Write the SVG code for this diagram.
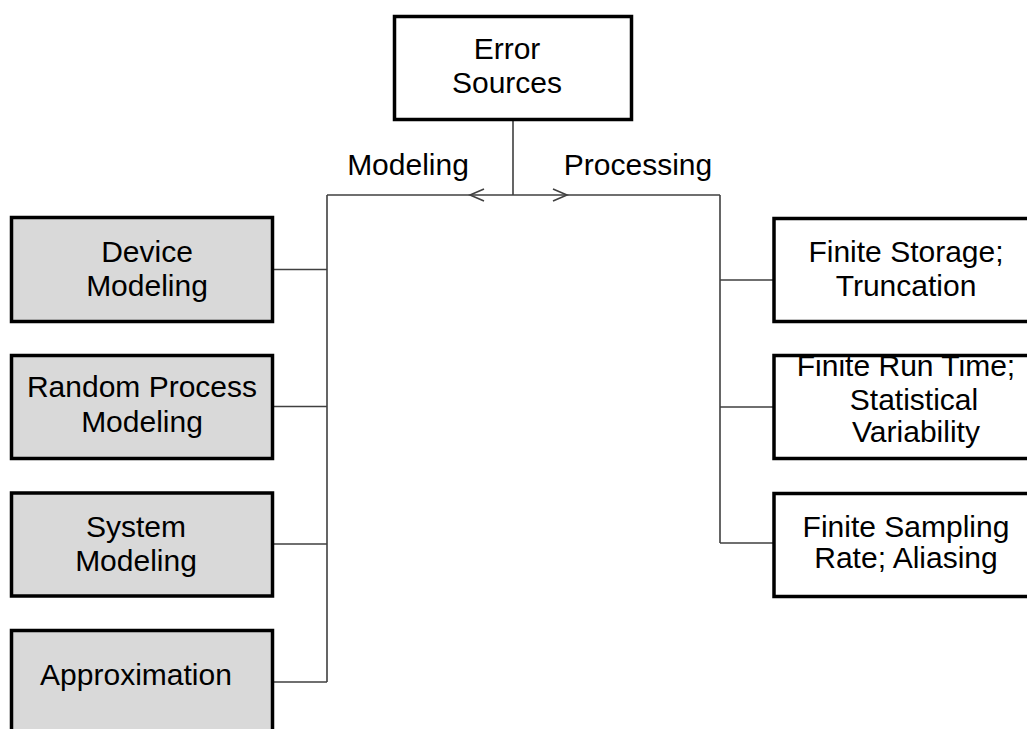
<svg xmlns="http://www.w3.org/2000/svg" width="1027" height="729" viewBox="0 0 1027 729">
<style>
.box{fill:#ffffff;stroke:#000000;stroke-width:3.5}
.gbox{fill:#d9d9d9;stroke:#000000;stroke-width:3.5}
.lbl{font-family:"Liberation Sans",Arial,sans-serif;font-size:30px;fill:#000000;text-anchor:middle}
.conn{fill:none;stroke:#404040;stroke-width:1.6}
</style>
<rect width="1027" height="729" fill="#ffffff"/>
<g id="connectors">
<path class="conn" d="M513,120 V195 M327,195 H720 M327,195 V682 M274,269.5 H327 M274,406.5 H327 M274,544 H327 M274,682 H327 M720,195 V543 M720,280 H774 M720,407 H774 M720,543 H774"/>
<polyline class="conn" points="484,189 470,195 484,201"/>
<polyline class="conn" points="553,189 567,195 553,201"/>
<text class="lbl" x="408" y="175">Modeling</text>
<text class="lbl" x="638" y="175">Processing</text>
</g>
<g id="error-sources">
<rect class="box" x="394.5" y="16.5" width="237" height="103"/>
<text class="lbl" x="507" y="59">Error</text>
<text class="lbl" x="507" y="93">Sources</text>
</g>
<g id="device-modeling">
<rect class="gbox" x="11.5" y="217.5" width="261" height="104"/>
<text class="lbl" x="147" y="261.5">Device</text>
<text class="lbl" x="147" y="296">Modeling</text>
</g>
<g id="random-process-modeling">
<rect class="gbox" x="11.5" y="355.5" width="261" height="103"/>
<text class="lbl" x="142" y="397">Random Process</text>
<text class="lbl" x="142" y="431.5">Modeling</text>
</g>
<g id="system-modeling">
<rect class="gbox" x="11.5" y="493" width="261" height="103"/>
<text class="lbl" x="136" y="537">System</text>
<text class="lbl" x="136" y="571">Modeling</text>
</g>
<g id="approximation">
<rect class="gbox" x="11.5" y="630.5" width="261" height="110"/>
<text class="lbl" x="136" y="685">Approximation</text>
</g>
<g id="finite-storage">
<rect class="box" x="774" y="218.5" width="270" height="103"/>
<text class="lbl" x="906" y="261.5">Finite Storage;</text>
<text class="lbl" x="906" y="296">Truncation</text>
</g>
<g id="finite-run-time">
<rect class="box" x="774" y="355.5" width="270" height="103"/>
<text class="lbl" x="906" y="376">Finite Run Time;</text>
<text class="lbl" x="914" y="410">Statistical</text>
<text class="lbl" x="916" y="442">Variability</text>
</g>
<g id="finite-sampling">
<rect class="box" x="774" y="493.5" width="270" height="103"/>
<text class="lbl" x="906" y="536.5">Finite Sampling</text>
<text class="lbl" x="906" y="568">Rate; Aliasing</text>
</g>
</svg>
